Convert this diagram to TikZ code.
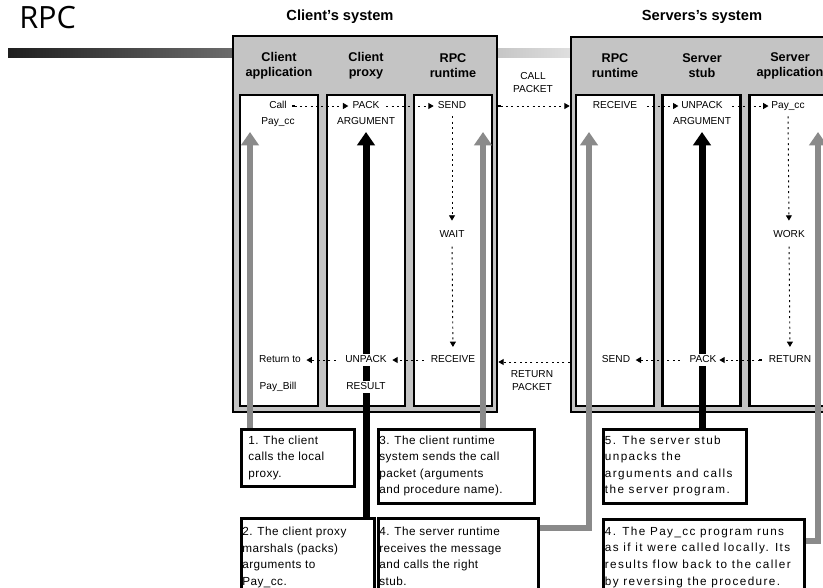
\documentclass[tikz,border=0pt]{standalone}
\usepackage{fontspec}
\setmainfont{Liberation Sans}
\newfontfamily\titlefont{Open Sans}
\newfontfamily\notefont[LetterSpace=4]{Liberation Sans}
\newfontfamily\widenotefont[LetterSpace=12]{Liberation Sans}
\usetikzlibrary{arrows.meta}
\definecolor{panelgray}{RGB}{196,196,196}
\definecolor{flowgray}{RGB}{138,138,138}
\begin{document}
\begin{tikzpicture}[x=0.75pt,y=-0.75pt,
  sysbox/.style={draw=black, line width=2pt, fill=panelgray, inner sep=0pt},
  colbox/.style={draw=black, line width=2pt, fill=white, inner sep=0pt,
                 minimum width=58.5pt, minimum height=233.25pt},
  systitle/.style={font=\bfseries\fontsize{11}{13}\selectfont},
  colhead/.style={font=\bfseries\fontsize{9.5}{11.25}\selectfont, align=center},
  coltext/.style={font=\fontsize{7.6}{9}\selectfont, fill=white, inner sep=1pt,
                  text height=5.6pt, text depth=1.6pt},
  pktlabel/.style={font=\fontsize{7.6}{9.75}\selectfont, align=center},
  flow/.style={line width=0.7pt, dash pattern=on 1.5pt off 2.5pt,
               -{Triangle[length=4pt,width=4.5pt]}},
  sflow/.style={flow, {Square[length=2pt,width=2pt]}-{Triangle[length=4pt,width=4.5pt]}},
  grayarrow/.style={draw=flowgray, line width=4.5pt, line join=miter,
                    -{Triangle[length=10pt,width=13pt]}},
  blackarrow/.style={draw=black, line width=5.25pt,
                     -{Triangle[length=10pt,width=13pt]}},
  notebox/.style={draw=black, line width=2pt, fill=white, inner sep=0pt, anchor=north west},
  notetext/.style={font=\notefont\fontsize{8.8}{12.4}\selectfont, align=left, inner sep=0pt, anchor=north west},
  widenote/.style={notetext, font=\widenotefont\fontsize{8.8}{12.4}\selectfont}
]
\clip (0,0) rectangle (823,587);
\fill[white] (0,0) rectangle (823,587);

% title and rule
\node[font=\titlefont\fontsize{23}{23}\selectfont, anchor=base west, inner sep=0pt] (title) at (19,28) {RPC};
\shade[left color=black!88, right color=black!12] (8,48) rectangle (575,57);

% system headings
\node[systitle] (clienttitle) at (340,17) {Client's system};
\node[systitle] (servertitle) at (702,17) {Servers's system};

% system panels
\node[sysbox, minimum width=198pt, minimum height=282pt] (client) at (365,224) {};
\node[sysbox, minimum width=201.75pt, minimum height=281.25pt] (server) at (705.5,224.5) {};

% columns
\node[colbox] (c1) at (279,250.5) {};
\node[colbox] (c2) at (366,250.5) {};
\node[colbox] (c3) at (453,250.5) {};
\node[colbox] (c4) at (615,250.5) {};
\node[colbox] (c5) at (701.5,250.5) {};
\node[colbox] (c6) at (788.5,250.5) {};

% column headings
\node[colhead] (h1) at (279,65.5) {Client\\application};
\node[colhead] (h2) at (366,65.5) {Client\\proxy};
\node[colhead] (h3) at (453,65.5) {RPC\\runtime};
\node[colhead] (h4) at (615,65.5) {RPC\\runtime};
\node[colhead] (h5) at (702,65.5) {Server\\stub};
\node[colhead] (h6) at (790,65.5) {Server\\application};

% packet labels
\node[pktlabel] (callpkt) at (533,83) {CALL\\PACKET};
\node[pktlabel] (retpkt) at (532,381) {RETURN\\PACKET};

% notes
\node[notebox, minimum width=84.75pt, minimum height=42.75pt] (b1) at (240,428) {};
\node[notebox, minimum width=117pt, minimum height=55.5pt] (b3) at (377,428) {};
\node[notebox, minimum width=99.75pt, minimum height=64pt] (b2) at (240,517) {};
\node[notebox, minimum width=120pt, minimum height=64pt] (b4) at (377,517) {};
\node[notebox, minimum width=107.25pt, minimum height=55.5pt] (b5) at (602,428) {};
\node[notebox, minimum width=150.75pt, minimum height=64pt] (b6) at (602,518) {};

\node[notetext] (t1) at ([shift={(6pt,-5.5pt)}]b1.north west) {1. The client\\calls the local\\proxy.};
\node[notetext] (t3) at ([shift={(1.5pt,-5.5pt)}]b3.north west) {3. The client runtime\\system sends the call\\packet (arguments\\and procedure name).};
\node[notetext] (t2) at ([shift={(1.5pt,-7.5pt)}]b2.north west) {2. The client proxy\\marshals (packs)\\arguments to\\Pay\_cc.};
\node[notetext] (t4) at ([shift={(1.5pt,-7.5pt)}]b4.north west) {4. The server runtime\\receives the message\\and calls the right\\stub.};
\node[widenote] (t5) at ([shift={(2pt,-5.5pt)}]b5.north west) {5. The server stub\\unpacks the\\arguments and calls\\the server program.};
\node[widenote] (t6) at ([shift={(2pt,-6.5pt)}]b6.north west) {4. The Pay\_cc program runs\\as if it were called locally. Its\\results flow back to the caller\\by reversing the procedure.};

% arrow heads of the step markers
\coordinate (tip1) at (250,132);
\coordinate (tip2) at (366,132);
\coordinate (tip3) at (483,132);
\coordinate (tip4) at (589,132);
\coordinate (tip5) at (702,132);
\coordinate (tip6) at (818,132);

\draw[grayarrow] (b1.north -| tip1) -- (tip1);
\draw[blackarrow] (b2.north -| tip2) -- (tip2);
\draw[grayarrow] (b3.north -| tip3) -- (tip3);
\draw[grayarrow] ([yshift=-8.25pt]b4.north east) -| (tip4);
\draw[blackarrow] (b5.north -| tip5) -- (tip5);
\draw[grayarrow] ([yshift=-17.25pt]b6.north east) -| (tip6);

% client column texts
\node[coltext] (call) at (278,106) {Call};
\node[coltext] (paycc1) at (278,122) {Pay\_cc};
\node[coltext] (pack1) at (366,106) {PACK};
\node[coltext] (arg1) at (366,122) {ARGUMENT};
\node[coltext] (send1) at (452,106) {SEND};
\node[coltext] (wait) at (452,235) {WAIT};
\node[coltext] (ret) at (280,360) {Return to};
\node[coltext] (paybill) at (278,387) {Pay\_Bill};
\node[coltext] (unpack1) at (366,360) {UNPACK};
\node[coltext] (result) at (366,387) {RESULT};
\node[coltext] (recv1) at (453,360) {RECEIVE};

% server column texts
\node[coltext] (recv2) at (615,106) {RECEIVE};
\node[coltext] (unpack2) at (702,106) {UNPACK};
\node[coltext] (arg2) at (702,122) {ARGUMENT};
\node[coltext] (paycc2) at (788,106) {Pay\_cc};
\node[coltext] (work) at (789,235) {WORK};
\node[coltext] (send2) at (616,360) {SEND};
\node[coltext] (pack2) at (703,360) {PACK};
\node[coltext] (return) at (790,360) {RETURN};

% call path
\draw[sflow, shorten <=3pt, shorten >=2pt] (call.east) -- (pack1.west);
\draw[flow, shorten <=4pt, shorten >=2pt] (pack1.east) -- (send1.west);
\draw[flow, shorten <=3pt, shorten >=6pt] (send1.south) -- (wait.north);
\draw[flow, shorten <=4pt, shorten >=5pt] (wait.south) -- (recv1.north);
\draw[sflow] (send1 -| client.east) -- (send1 -| server.west);
\draw[flow, shorten <=6pt, shorten >=1pt] (recv2.east) -- (unpack2.west);
\draw[flow, shorten <=6pt, shorten >=1pt] (unpack2.east) -- (paycc2.west);
\draw[flow, shorten <=3pt, shorten >=6pt] (paycc2.south) -- (work.north);
\draw[flow, shorten <=4pt, shorten >=5pt] (work.south) -- (return.north);

% return path
\draw[sflow, shorten <=4pt, shorten >=1pt] (return.west) -- (pack2.east);
\draw[flow, shorten <=6pt, shorten >=3pt] (pack2.west) -- (send2.east);
\draw[flow] ([yshift=-1.5pt]send2 -| server.west) -- ([yshift=-1.5pt]send2 -| client.east);
\draw[flow, shorten <=4pt, shorten >=3pt] (recv1.west) -- (unpack1.east);
\draw[flow, shorten <=6pt, shorten >=3pt] (unpack1.west) -- (ret.east);
\end{tikzpicture}
\end{document}
